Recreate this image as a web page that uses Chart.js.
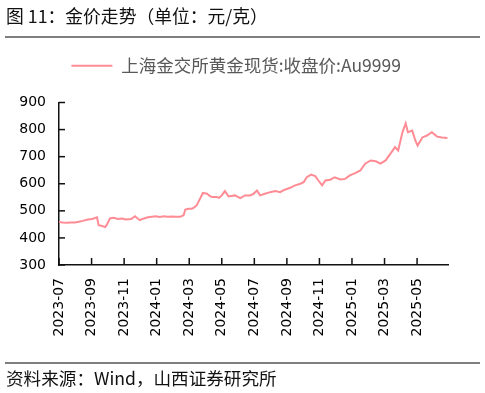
<!DOCTYPE html>
<html>
<head>
<meta charset="utf-8">
<script src="https://cdn.jsdelivr.net/npm/chart.js@4.4.1/dist/chart.umd.min.js"></script>
<style>
html,body{margin:0;padding:0;background:#fff;width:485px;height:393px;overflow:hidden;}
#wrap{position:relative;width:485px;height:393px;}
#c{position:absolute;left:0;top:0;}
.title{position:absolute;left:6px;top:3px;font-family:"Noto Sans CJK SC";font-size:17.8px;line-height:24px;color:#111;white-space:nowrap;}
.rule{position:absolute;left:5px;width:475px;height:2px;background:#7f7f7f;}
.src{position:absolute;left:6px;top:366px;font-family:"Noto Sans CJK SC";font-size:17.6px;line-height:24px;color:#111;white-space:nowrap;}
</style>
</head>
<body>
<div id="wrap">
<canvas id="c" width="485" height="393"></canvas>
<div class="title">图 11：金价走势（单位：元/克）</div>
<div class="rule" style="top:36px"></div>
<div class="rule" style="top:362px"></div>
<div class="src">资料来源：Wind，山西证券研究所</div>
</div>
<script>
const seriesName = '上海金交所黄金现货:收盘价:Au9999';
const tickLabels = ['2023-07','2023-09','2023-11','2024-01','2024-03','2024-05','2024-07','2024-09','2024-11','2025-01','2025-03','2025-05'];
const dates = [
'2023-07-01','2023-07-08','2023-07-16','2023-07-23','2023-07-31','2023-08-08','2023-08-15','2023-08-25',
'2023-09-02','2023-09-11','2023-09-14','2023-09-19','2023-09-26','2023-09-29','2023-10-05','2023-10-12',
'2023-10-20','2023-10-28','2023-11-04','2023-11-14','2023-11-21','2023-11-27','2023-11-30','2023-12-08',
'2023-12-15','2023-12-23','2023-12-30','2024-01-07','2024-01-15','2024-01-22','2024-01-30','2024-02-07',
'2024-02-14','2024-02-20','2024-02-23','2024-02-29','2024-03-06','2024-03-10','2024-03-15','2024-03-19',
'2024-03-23','2024-03-27','2024-04-04','2024-04-08','2024-04-13','2024-04-22','2024-04-26','2024-05-01',
'2024-05-07','2024-05-14','2024-05-19','2024-05-26','2024-06-05','2024-06-14','2024-06-23','2024-06-29',
'2024-07-06','2024-07-12','2024-07-21','2024-07-31','2024-08-10','2024-08-19','2024-08-28','2024-09-07',
'2024-09-16','2024-09-26','2024-10-02','2024-10-08','2024-10-16','2024-10-24','2024-10-30','2024-11-06',
'2024-11-12','2024-11-21','2024-11-29','2024-12-10','2024-12-19','2024-12-28','2025-01-07','2025-01-17',
'2025-01-26','2025-02-05','2025-02-14','2025-02-22','2025-03-03','2025-03-12','2025-03-21','2025-03-27',
'2025-04-04','2025-04-10','2025-04-14','2025-04-22','2025-04-28','2025-05-02','2025-05-11','2025-05-20',
'2025-05-29','2025-06-08','2025-06-17','2025-06-27'
];
const prices = [
459,457,456,457,457,460,463,468,
470,476,447,445,440,448,472,474,
470,472,468,470,480,470,466,472,
476,478,480,477,480,478,479,478,
478,484,505,508,508,512,520,535,
550,566,563,556,551,551,548,557,
573,553,555,557,547,557,557,562,
575,557,563,569,573,569,578,585,
594,600,606,624,634,628,612,594,
612,615,624,616,618,631,639,649,
674,686,683,674,686,710,735,723,
790,823,790,796,759,741,771,778,
790,774,771,769
];

function monthIndex(s){
  const [y,m,d] = s.split('-').map(Number);
  const dim = new Date(y, m, 0).getDate();
  return (y-2023)*12 + (m-7) + (d-1)/dim;
}

const lineColor = '#FF8C94';
const axisColor = '#111';

const inwardTicks = {
  id:'inwardTicks',
  afterDraw(chart){
    const ctx = chart.ctx, xs = chart.scales.x, ys = chart.scales.y;
    ctx.save();
    ctx.strokeStyle = axisColor;
    ctx.lineWidth = 1.5;
    xs.ticks.forEach((t,i)=>{
      const px = xs.getPixelForTick(i);
      ctx.beginPath(); ctx.moveTo(px, ys.bottom); ctx.lineTo(px, ys.bottom-7); ctx.stroke();
    });
    ys.ticks.forEach((t,i)=>{
      const py = ys.getPixelForTick(i);
      ctx.beginPath(); ctx.moveTo(xs.left, py); ctx.lineTo(xs.left+6, py); ctx.stroke();
    });
    ctx.restore();
  }
};

const legendShift = {
  id:'legendShift',
  afterLayout(chart){
    if (chart.legend){ chart.legend.left += 9; chart.legend.right += 9; }
  }
};

const tickFont = {family:'"DejaVu Sans"', size:14};

new Chart(document.getElementById('c'), {
  type:'line',
  data:{
    datasets:[{
      label: seriesName,
      data: dates.map((d,i)=>({x:monthIndex(d), y:prices[i]})),
      borderColor: lineColor,
      backgroundColor: lineColor,
      borderWidth: 2,
      pointRadius: 0,
      tension: 0
    }]
  },
  options:{
    responsive:false,
    animation:false,
    devicePixelRatio:1,
    layout:{padding:{top:47,left:6.3,right:37,bottom:43.5}},
    plugins:{
      legend:{
        position:'top',
        labels:{usePointStyle:true, pointStyle:'line', pointStyleWidth:41,
          font:{family:'"Noto Sans CJK SC"', size:17.5}, color:'#595959', padding:10}
      },
      title:{display:true, text:'', weight:0, font:{size:10}, padding:{top:0,bottom:6}},
      tooltip:{enabled:false}
    },
    scales:{
      x:{
        type:'linear', min:0, max:23.9,
        afterBuildTicks:(s)=>{ s.ticks = tickLabels.map((l,i)=>({value:i*2})); },
        ticks:{autoSkip:false, minRotation:90, maxRotation:90, padding:13, font:tickFont, color:'#000',
          callback:(v)=>tickLabels[Math.round(v/2)]},
        grid:{drawOnChartArea:false, drawTicks:false},
        border:{color:axisColor, width:1.5}
      },
      y:{
        min:300, max:900,
        ticks:{stepSize:100, padding:13, font:tickFont, color:'#000'},
        grid:{drawOnChartArea:false, drawTicks:false},
        border:{color:axisColor, width:1.5}
      }
    }
  },
  plugins:[inwardTicks, legendShift]
});
</script>
</body>
</html>
